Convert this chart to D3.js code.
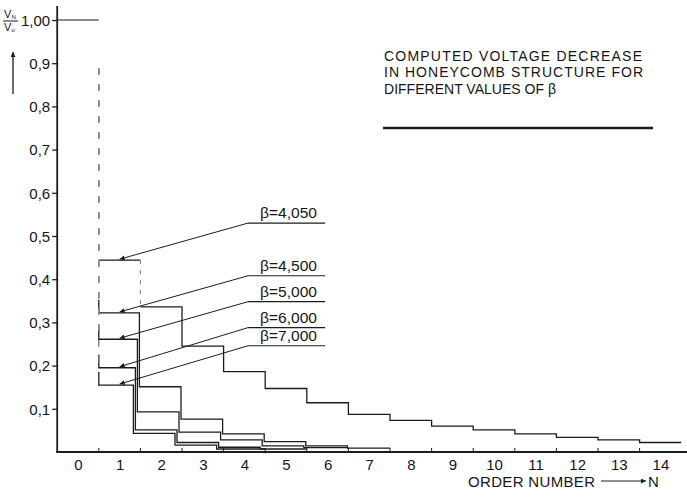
<!DOCTYPE html>
<html>
<head>
<meta charset="utf-8">
<script src="https://cdn.jsdelivr.net/npm/d3@7"></script>
<style>
  body { margin: 0; background: #fff; }
  text { font-family: "Liberation Sans", Arial, sans-serif; fill: #151515; }
</style>
</head>
<body>
<div id="chart"></div>
<script>
// values, V_N / V_0 for N = 0, 1, 2, ...
const betaLabels = ["β=4,050", "β=4,500", "β=5,000", "β=6,000", "β=7,000"];
const v4050 = [1.00, 0.444, 0.336, 0.245, 0.186, 0.147, 0.114, 0.087, 0.073, 0.060, 0.051, 0.042, 0.034, 0.028, 0.022];
const v4500 = [1.00, 0.322, 0.151, 0.076, 0.042, 0.024, 0.014, 0.009];
const v5000 = [1.00, 0.261, 0.093, 0.046, 0.028, 0.014, 0.010];
const v6000 = [1.00, 0.195, 0.051, 0.022, 0.011, 0.007];
const v7000 = [1.00, 0.155, 0.043, 0.016, 0.007];
const yTickValues = [0.1, 0.2, 0.3, 0.4, 0.5, 0.6, 0.7, 0.8, 0.9, 1.0];
const yTickLabels = ["0,1", "0,2", "0,3", "0,4", "0,5", "0,6", "0,7", "0,8", "0,9", "1,00"];
const xTickValues = d3.range(0, 15);
const titleLines = ["COMPUTED VOLTAGE DECREASE", "IN HONEYCOMB STRUCTURE FOR", "DIFFERENT VALUES OF  β"];
// where the label underlines sit, in V/V0 units
const labelLevels = [0.530, 0.408, 0.348, 0.288, 0.246];

const width = 687, height = 501;
const series = [v4050, v4500, v5000, v6000, v7000];

let svg = d3.select("#chart")
    .append("svg")
    .attr("width", width)
    .attr("height", height);

let x = d3.scaleLinear().domain([0, 14]).range([78, 78 + 41.6 * 14]);
let y = d3.scaleLinear().domain([0, 1]).range([452, 20]);

let ink = "#1c1c1c";
let font = "'Liberation Sans', Arial, sans-serif";

// y axis
let yAxis = d3.axisLeft(y)
    .tickValues(yTickValues)
    .tickFormat((d, i) => yTickLabels[i])
    .tickSize(5)
    .tickPadding(2);
svg.append("g")
    .attr("transform", `translate(${x(-0.5)}, 0)`)
    .call(yAxis)
    .call(g => g.select(".domain").remove())
    .call(g => g.selectAll("line").attr("stroke", ink).attr("stroke-width", 1.3))
    .call(g => g.selectAll("text").attr("font-size", 15).attr("dy", "0.35em")
        .style("font-family", font).style("fill", "#151515"));

// x axis labels
let xAxis = d3.axisBottom(x)
    .tickValues(xTickValues)
    .tickFormat(d3.format("d"))
    .tickSize(0)
    .tickPadding(7);
svg.append("g")
    .attr("transform", `translate(0, ${y(0)})`)
    .call(xAxis)
    .call(g => g.select(".domain").remove())
    .call(g => g.selectAll("text").attr("font-size", 15).attr("dy", "0.71em")
        .style("font-family", font).style("fill", "#151515"));

// small ticks on the step boundaries
svg.append("g").selectAll("line")
    .data(d3.range(0.5, 14.5, 1))
    .enter().append("line")
    .attr("x1", d => x(d)).attr("x2", d => x(d))
    .attr("y1", y(0)).attr("y2", y(0) - 4)
    .attr("stroke", ink).attr("stroke-width", 1);

// axis lines
svg.append("line")
    .attr("x1", x(-0.5)).attr("x2", x(-0.5))
    .attr("y1", 6).attr("y2", y(0) + 1)
    .attr("stroke", ink).attr("stroke-width", 1.8);
svg.append("line")
    .attr("x1", x(-0.5) - 1).attr("x2", width)
    .attr("y1", y(0)).attr("y2", y(0))
    .attr("stroke", ink).attr("stroke-width", 2);

// N = 0 level, shared by all curves
svg.append("line")
    .attr("x1", x(-0.5)).attr("x2", x(0.5))
    .attr("y1", y(v4050[0])).attr("y2", y(v4050[0]))
    .attr("stroke", ink).attr("stroke-width", 1.1);

// step curves
let shift = [0, -1, -3, -5, -7];
series.forEach(function(vals, s) {
    // first drop, drawn dashed
    let stubTop = s === 0 ? vals[1] : vals[1] + 0.03;
    svg.append("line")
        .attr("x1", x(0.5)).attr("x2", x(0.5))
        .attr("y1", y(vals[0]) + 48).attr("y2", y(stubTop))
        .attr("stroke", "#888").attr("stroke-width", 1)
        .attr("stroke-dasharray", "7,9");

    let p = d3.path();
    p.moveTo(x(0.5), y(stubTop));
    p.lineTo(x(0.5), y(vals[1]));
    for (let n = 1; n < vals.length; n++) {
        let xe = x(n + 0.5) + (n + 1 < vals.length ? shift[s] : 0);
        p.lineTo(xe, y(vals[n]));
        if (n + 1 < vals.length) {
            if (s === 0 && n === 1) {
                // drawn dashed in the original
                p.moveTo(xe, y(vals[n + 1]));
            } else {
                p.lineTo(xe, y(vals[n + 1]));
            }
        }
    }
    svg.append("path").attr("d", p.toString())
        .attr("fill", "none").attr("stroke", ink).attr("stroke-width", 1.3);

    if (s === 0) {
        svg.append("line")
            .attr("x1", x(1.5)).attr("x2", x(1.5))
            .attr("y1", y(vals[1])).attr("y2", y(vals[2]))
            .attr("stroke", "#777").attr("stroke-width", 1)
            .attr("stroke-dasharray", "4,6");
    }
});

// labels with leader arrows
svg.append("defs").append("marker")
    .attr("id", "head")
    .attr("viewBox", "0 0 10 10")
    .attr("refX", 10).attr("refY", 5)
    .attr("markerWidth", 9).attr("markerHeight", 5)
    .attr("markerUnits", "userSpaceOnUse")
    .attr("orient", "auto")
    .append("path")
    .attr("d", "M0,0 L10,5 L0,10 Z")
    .attr("fill", ink);

series.forEach(function(vals, s) {
    let ly = y(labelLevels[s]);
    svg.append("line")
        .attr("x1", x(4.09)).attr("x2", x(5.94))
        .attr("y1", ly).attr("y2", ly)
        .attr("stroke", ink).attr("stroke-width", 1.2);
    svg.append("line")
        .attr("x1", x(4.09)).attr("y1", ly)
        .attr("x2", x(1)).attr("y2", y(vals[1]) - 1)
        .attr("stroke", ink).attr("stroke-width", 1)
        .attr("marker-end", "url(#head)");
    svg.append("text")
        .attr("x", x(4.375)).attr("y", ly - 5)
        .attr("font-size", 15)
        .attr("textLength", 57)
        .attr("lengthAdjust", "spacingAndGlyphs")
        .text(betaLabels[s]);
});

// title block
svg.selectAll(".title")
    .data(titleLines)
    .enter().append("text")
    .attr("class", "title")
    .attr("x", 384)
    .attr("y", (d, i) => 60.5 + i * 16.5)
    .attr("font-size", 14)
    .attr("textLength", (d, i) => [258, 259, 172][i])
    .attr("lengthAdjust", (d, i) => i < 2 ? "spacing" : "spacingAndGlyphs")
    .text(d => d);
svg.append("line")
    .attr("x1", 383).attr("x2", 653)
    .attr("y1", 128).attr("y2", 128)
    .attr("stroke", ink).attr("stroke-width", 2.4);

// x axis title
svg.append("text")
    .attr("x", 468).attr("y", 487)
    .attr("font-size", 15)
    .attr("textLength", 127)
    .attr("lengthAdjust", "spacing")
    .text("ORDER NUMBER");
svg.append("line")
    .attr("x1", 601).attr("x2", 646)
    .attr("y1", 481).attr("y2", 481)
    .attr("stroke", ink).attr("stroke-width", 1)
    .attr("marker-end", "url(#head)");
svg.append("text")
    .attr("x", 648).attr("y", 487)
    .attr("font-size", 15)
    .text("N");

// y axis title: V_N / V_0 with an upward arrow
let yt = svg.append("g");
yt.append("text").attr("x", 4).attr("y", 18).attr("font-size", 11).text("V");
yt.append("text").attr("x", 11.5).attr("y", 19).attr("font-size", 6).text("N");
yt.append("line").attr("x1", 3).attr("x2", 18).attr("y1", 21).attr("y2", 21)
    .attr("stroke", ink).attr("stroke-width", 1);
yt.append("text").attr("x", 4).attr("y", 31).attr("font-size", 11).text("V");
yt.append("text").attr("x", 11.5).attr("y", 32).attr("font-size", 6).text("o");
yt.append("line").attr("x1", 13).attr("x2", 13).attr("y1", 94).attr("y2", 52)
    .attr("stroke", ink).attr("stroke-width", 1.3)
    .attr("marker-end", "url(#head)");
</script>
</body>
</html>
